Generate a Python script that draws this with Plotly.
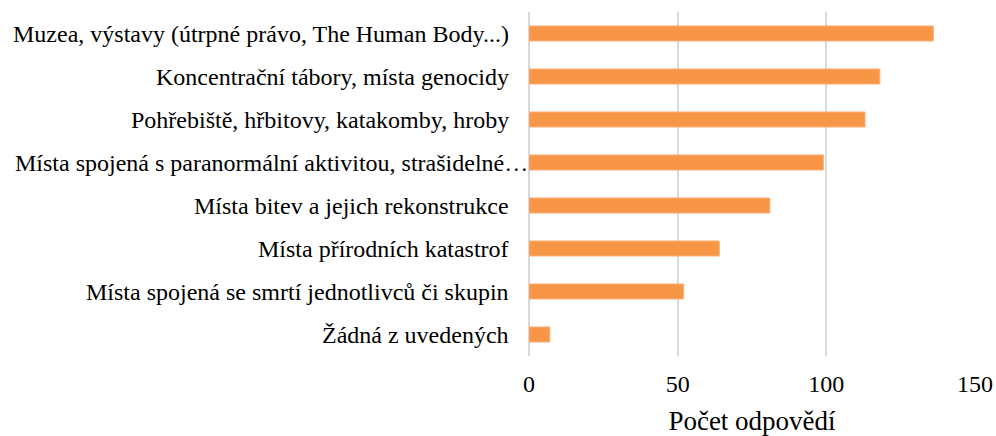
import plotly.graph_objects as go

categories = [
    "Muzea, výstavy (útrpné právo, The Human Body...)",
    "Koncentrační tábory, místa genocidy",
    "Pohřebiště, hřbitovy, katakomby, hroby",
    "Místa spojená s paranormální aktivitou, strašidelné…",
    "Místa bitev a jejich rekonstrukce",
    "Místa přírodních katastrof",
    "Místa spojená se smrtí jednotlivců či skupin",
    "Žádná z uvedených",
]
values = [136, 118, 113, 99, 81, 64, 52, 7]
x_ticks = [0, 50, 100, 150]
x_title = "Počet odpovědí"

font_family = "Liberation Serif"

fig = go.Figure(
    go.Bar(
        x=values,
        y=categories,
        orientation="h",
        marker=dict(color="#F79646", line=dict(color="#F9B07A", width=1)),
        width=0.35,
    )
)

fig.update_layout(
    width=996,
    height=436,
    margin=dict(l=529, r=21, t=12, b=80, autoexpand=False),
    paper_bgcolor="white",
    plot_bgcolor="white",
    font=dict(family=font_family, size=24, color="black"),
    showlegend=False,
)

fig.update_xaxes(
    range=[0, 150],
    tickvals=x_ticks,
    showgrid=True,
    gridcolor="#D9D9D9",
    gridwidth=2,
    zeroline=True,
    zerolinecolor="#D9D9D9",
    zerolinewidth=2,
    showline=False,
    ticks="outside",
    ticklen=6,
    tickcolor="rgba(0,0,0,0)",
    tickfont=dict(size=24),
    title=dict(text=x_title, font=dict(size=27), standoff=15),
)

fig.update_yaxes(
    autorange="reversed",
    showgrid=False,
    showline=False,
    zeroline=False,
    showticklabels=False,
)

for i, cat in enumerate(categories):
    shift = -18 if not cat.endswith("…") else 1
    fig.add_annotation(
        x=0, xref="paper", y=cat, yref="y",
        text=cat, showarrow=False,
        xanchor="right", yanchor="middle",
        xshift=shift,
        font=dict(family=font_family, size=24, color="black"),
    )

fig.write_html(
    "out.html",
    config={"displayModeBar": False},
    post_script="document.body.style.margin='0';document.body.style.overflow='hidden';",
)
